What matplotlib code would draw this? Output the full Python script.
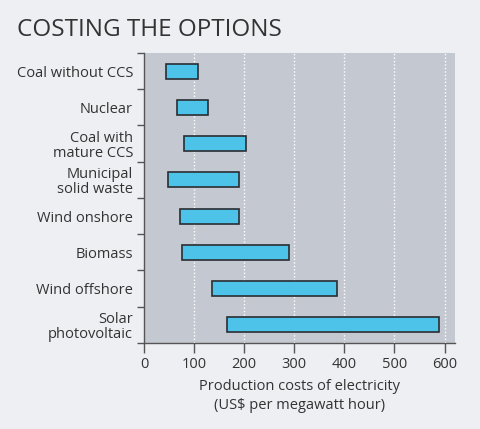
import matplotlib
matplotlib.use("Agg")
import matplotlib.pyplot as plt

# data (US$ per MWh, low and high end of each range)
options = [
    "Coal without CCS",
    "Nuclear",
    "Coal with\nmature CCS",
    "Municipal\nsolid waste",
    "Wind onshore",
    "Biomass",
    "Wind offshore",
    "Solar\nphotovoltaic",
]
cost_low = [43, 66, 80, 48, 72, 76, 136, 165]
cost_high = [107, 127, 204, 190, 190, 290, 385, 589]
x_ticks = [0, 100, 200, 300, 400, 500, 600]

FIG_BG = "#eeeff3"
AX_BG = "#c4c8d0"
BAR = "#4ec3ea"
TEXT = "#333333"

plt.rcParams["font.family"] = ["Open Sans", "DejaVu Sans"]

fig = plt.figure(figsize=(4.8, 4.29), dpi=100, facecolor=FIG_BG)
ax = fig.add_axes([0.30, 0.2005, 0.648, 0.676])
ax.set_facecolor(AX_BG)

ypos = list(range(len(options)))
widths = [h - l for l, h in zip(cost_low, cost_high)]
ax.barh(ypos, widths, left=cost_low, height=0.41, color=BAR,
        edgecolor="#2a2d33", linewidth=1.2, zorder=3)

ax.set_xlim(0, 621)
ax.set_ylim(len(options) - 0.5, -0.5)

ax.set_xticks(x_ticks)
ax.set_xticklabels([str(t) for t in x_ticks])
for t in x_ticks[1:]:
    ax.axvline(t, color="white", linestyle=(0, (1, 1.5)), linewidth=1.0, zorder=1)

# category labels between boundary ticks
ax.set_yticks([i - 0.5 for i in range(len(options) + 1)])
ax.set_yticklabels([])
ax.set_yticks(ypos, minor=True)
ax.set_yticklabels(options, minor=True, fontsize=10.5, color=TEXT, linespacing=1.05)
ax.tick_params(axis="y", which="minor", length=0, pad=8)
ax.tick_params(axis="y", which="major", length=5, color="#555555", width=1)
ax.tick_params(axis="x", length=7, color="#555555", width=1, labelsize=10.5,
               labelcolor=TEXT, pad=3)

for side in ["top", "right"]:
    ax.spines[side].set_visible(False)
for side in ["left", "bottom"]:
    ax.spines[side].set_color("#555555")
    ax.spines[side].set_linewidth(1.0)

ax.set_xlabel("Production costs of electricity\n(US$ per megawatt hour)",
              fontsize=10.5, color=TEXT, labelpad=5, linespacing=1.35)

fig.text(0.035, 0.93, "COSTING THE OPTIONS", fontsize=17.5, color=TEXT,
         va="center", ha="left")

fig.savefig("out.png", dpi=100, facecolor=FIG_BG)
